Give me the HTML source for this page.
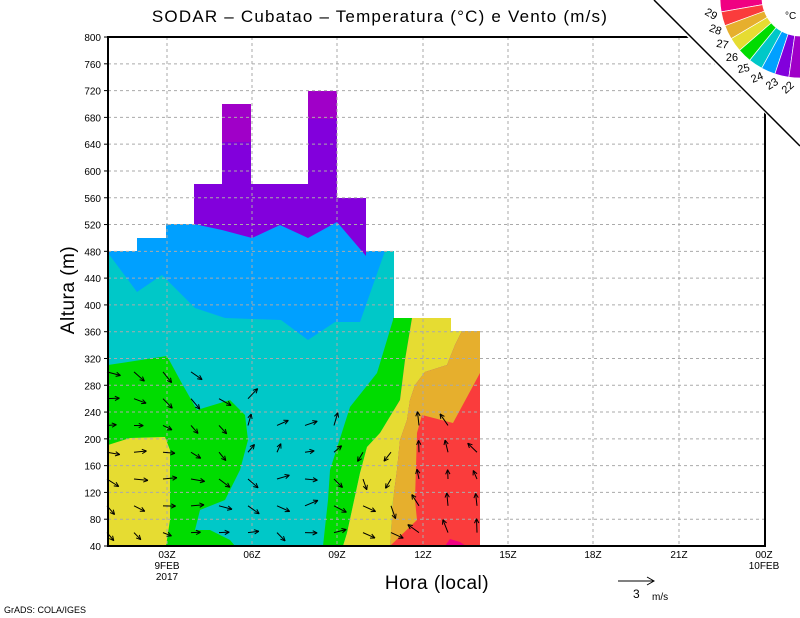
<!DOCTYPE html>
<html><head><meta charset="utf-8"><style>
body{margin:0;background:#fff}
svg{display:block}
text{font-family:"Liberation Sans",sans-serif}
</style></head><body>
<svg id="s" width="800" height="618" viewBox="0 0 800 618" xmlns="http://www.w3.org/2000/svg">
<rect width="800" height="618" fill="#fff"/>
<polygon fill="#8200dc" points="108,251 137,251 137,238 166,238 166,224 194,224 194,184 222,184 222,104 251,104 251,184 308,184 308,91 337,91 337,198 366,198 366,251 394,251 394,318 451,318 451,331 480,331 480,546 108,546"/>
<rect x="222" y="104" width="29" height="38" fill="#a000c8"/>
<rect x="308" y="91" width="29" height="28" fill="#a000c8"/>
<polygon fill="#00a0ff" points="108,251 137,251 137,238 166,238 166,224 194,224 222,230 252,238 280,225 308,238 337,222 366,256 366,251 394,251 394,546 108,546"/>
<polygon fill="#00c8c8" points="108,253 137,292 162,275 195,308 225,318 281,320 308,340 335,322 360,322 385,251 394,251 394,546 108,546"/>
<polygon fill="#00dc00" points="108,365 167,356 180,380 197,410 230,400 245,415 248,440 240,470 225,500 200,510 195,530 210,530 230,540 235,546 108,546"/>
<polygon fill="#e6dc32" points="108,445 130,438 165,437 170,450 170,520 166,546 108,546"/>
<polygon fill="#00dc00" points="393,318 412,318 405,360 400,400 380,433 367,447 360,473 347,533 343,546 323,546 328,500 330,470 350,407 377,373 393,320"/>
<polygon fill="#e6dc32" points="412,318 451,318 451,331 462,331 455,345 447,365 425,372 415,385 410,400 407,420 400,440 397,470 393,500 390,546 343,546 347,533 360,473 367,447 380,433 400,400 405,360"/>
<polygon fill="#e6af2d" points="462,331 480,331 480,546 390,546 393,500 397,470 400,440 407,420 410,400 415,385 425,372 447,365 455,345"/>
<polygon fill="#fa3c3c" points="480,373 453,423 422,415 417,433 415,500 417,520 390,546 480,546"/>
<polygon fill="#f00082" points="445,546 450,539 460,542 466,546"/>
<g id="grid" stroke="#aaa" stroke-width="1" stroke-dasharray="3,3"></g>
<g id="arrows" stroke="#000" stroke-width="1" fill="none"></g>
<polyline points="692,37 108,37 108,546 765,546 765,108" fill="none" stroke="#000" stroke-width="2"/>
<polygon points="650,0 800,0 800,148" fill="#fff"/>
<line x1="654" y1="0" x2="800" y2="146" stroke="#000" stroke-width="1.5"/>
<g id="leg"></g>
<text x="785" y="19" font-size="10">°C</text>
<g id="ylab" font-size="10" text-anchor="end"></g>
<g font-size="10" text-anchor="middle">
<text x="167" y="558">03Z</text><text x="167" y="569">9FEB</text><text x="167" y="580">2017</text>
<text x="252" y="558">06Z</text><text x="337" y="558">09Z</text><text x="423" y="558">12Z</text>
<text x="508" y="558">15Z</text><text x="593" y="558">18Z</text><text x="679" y="558">21Z</text>
<text x="764" y="558">00Z</text><text x="764" y="569">10FEB</text>
</g>
<text x="380" y="22" font-size="17" letter-spacing="1.2" text-anchor="middle">SODAR – Cubatao – Temperatura (°C) e Vento (m/s)</text>
<text x="437" y="589" font-size="19" letter-spacing="0.5" text-anchor="middle">Hora (local)</text>
<text transform="translate(74,290) rotate(-90)" font-size="19" letter-spacing="0.5" text-anchor="middle">Altura (m)</text>
<line x1="618" y1="581" x2="654" y2="581" stroke="#000"/>
<polyline points="647,577 654,581 647,585" fill="none" stroke="#000"/>
<text x="633" y="598" font-size="12">3</text><text x="652" y="600" font-size="10">m/s</text>
<text x="4" y="613" font-size="9">GrADS: COLA/IGES</text>
</svg>
<script>
var NS="http://www.w3.org/2000/svg";
function el(p,t,a){var e=document.createElementNS(NS,t);for(var k in a)e.setAttribute(k,a[k]);document.getElementById(p).appendChild(e);return e;}
function Y(m){return 546-(m-40)*0.6697;}
for(var m=80;m<=760;m+=40){el("grid","line",{x1:108,y1:Y(m),x2:765,y2:Y(m)});}
[167,252,337,423,508,593,679].forEach(function(x){el("grid","line",{x1:x,y1:37,x2:x,y2:546});});
for(var m=40;m<=800;m+=40){var t=el("ylab","text",{x:101,y:Y(m)+4});t.textContent=m;el("ylab","line",{x1:104,y1:Y(m),x2:108,y2:Y(m),stroke:"#000"});}
var cols=[110,137,166,194,222,251,280,308,337,366,394,422,451,480];
var tops=[300,300,300,300,280,280,240,240,240,200,200,220,220,200];
for(var i=0;i<cols.length;i++){for(var m=60;m<=tops[i];m+=40){
 var a;
 if(i<5)a=0.4+0.5*Math.sin(i+m/50);else if(i<9)a=(m>160?-0.7:0.2)+0.6*Math.sin(i*2+m/30);else if(i<11)a=1.3+1.0*Math.sin(m/40+i);else a=-2.2+0.6*Math.sin(i+m/60);
 var L=9+5*Math.abs(Math.sin(i*3+m));
 var x0=cols[i]-3,y0=Y(m),x1=x0+L*Math.cos(a),y1=y0+L*Math.sin(a);
 el("arrows","line",{x1:x0,y1:y0,x2:x1,y2:y1});
 var h=5;for(var s=-1;s<=1;s+=2){var b=a+Math.PI+s*0.45;el("arrows","line",{x1:x1,y1:y1,x2:x1+h*Math.cos(b),y2:y1+h*Math.sin(b)});}
}}
var cx=800,cy=-2,r1=38,r2=80;
var cols2=["#f00082","#fa3c3c","#e6af2d","#e6dc32","#00dc00","#00c8c8","#00a0ff","#8200dc","#a000c8"];
var bounds=[190,170,159.7,149.4,139.1,128.9,118.6,108.3,98,80];
function P(r,d){var t=d*Math.PI/180;return [cx+r*Math.cos(t),cy+r*Math.sin(t)];}
for(var k=0;k<9;k++){var a0=bounds[k],a1=bounds[k+1];
 var p=[P(r1,a0),P(r2,a0),P(r2,a1),P(r1,a1)];
 el("leg","path",{d:"M"+p[0]+" L"+p[1]+" A"+r2+" "+r2+" 0 0 0 "+p[2]+" L"+p[3]+" A"+r1+" "+r1+" 0 0 1 "+p[0]+"Z",fill:cols2[k],stroke:"#fff","stroke-width":"0.7"});}
var labs=["29","28","27","26","25","24","23","22"];
for(var k=0;k<8;k++){var d=bounds[k+1],q=P(90,d);var t=el("leg","text",{x:q[0],y:q[1]+4,"font-size":"11","text-anchor":"middle",transform:"rotate("+(d-180+40)+" "+q[0]+" "+q[1]+")"});t.textContent=labs[k];}
</script>
</body></html>
